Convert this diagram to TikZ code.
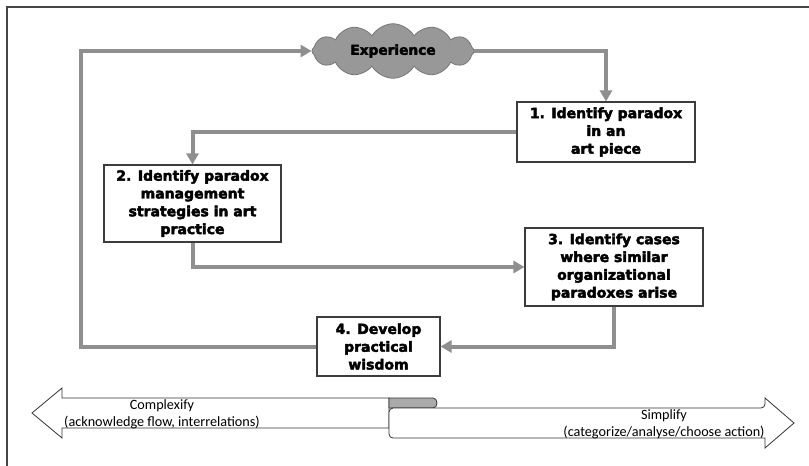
\documentclass[tikz,border=0pt]{standalone}
\usepackage{fontspec}
\setmainfont{DejaVu Sans}[BoldFeatures={FakeBold=3}]
\newfontfamily\calib{Carlito}
\usetikzlibrary{shapes.symbols,arrows.meta}
\definecolor{flowc}{RGB}{143,143,143}
\definecolor{cloudf}{RGB}{152,152,152}
\definecolor{cloudd}{RGB}{120,120,120}
\definecolor{boxd}{RGB}{60,60,60}
\definecolor{framec}{RGB}{70,70,70}
\definecolor{foldc}{RGB}{170,170,170}
\tikzset{
  stepbox/.style={draw=boxd, line width=1.1pt, fill=white, align=center, inner sep=0pt,
    font=\fontsize{14}{17.8}\selectfont\bfseries},
  flow/.style={draw=flowc, line width=4pt, -{Triangle[length=11pt,width=12pt]}},
  ribbon/.style={draw=black!80, line width=0.8pt, fill=white},
  ribtext/.style={align=center, inner sep=0pt, font=\calib\fontsize{14.2}{17}\selectfont}
}
\begin{document}
\begin{tikzpicture}[x=1pt,y=-1pt]
\useasboundingbox (0,0) rectangle (809,466);
\fill[white] (0,0) rectangle (809,466);
% frame
\draw[framec, line width=1.6pt] (7,466) -- (7,7) -- (809,7);
% cloud
\node[cloud, cloud puffs=12, cloud puff arc=120, aspect=3.3, draw=cloudd, line width=0.8pt, fill=cloudf,
  minimum width=162pt, minimum height=50pt, inner sep=1pt,
  font=\fontsize{13.7}{16}\selectfont\bfseries] (exp) at (393,51) {Experience};
% boxes
\node[stepbox, minimum width=178pt, minimum height=60pt] (b1) at (606,132)
  {1. Identify paradox\\in an\\art piece};
\node[stepbox, minimum width=177pt, minimum height=77pt] (b2) at (192.5,203.5)
  {2. Identify paradox\\management\\strategies in art\\practice};
\node[stepbox, minimum width=178pt, minimum height=78pt] (b3) at (614,267)
  {3. Identify cases\\where similar\\organizational\\paradoxes arise};
\node[stepbox, minimum width=123pt, minimum height=59pt] (b4) at (378.5,346.5)
  {4. Develop\\practical\\wisdom};
\coordinate (lc) at (81,51);
% connectors
\draw[flow] (exp.east) -| (b1.north);
\draw[flow] (b1.west) -| (b2.north);
\draw[flow] (b2.south) |- (b3.west);
\draw[flow] (b3.south) |- (b4.east);
\draw[flow] (b4.west) -| (lc) -- (exp.west);
% ribbon
\draw[ribbon] (32,413) -- (62,388) -- (62,398) -- (389,398) -- (389,428) -- (62,428) -- (62,438) -- cycle;
\draw[ribbon, fill=foldc] (389,398) -- (433,398) arc[start angle=-90, end angle=90, x radius=4, y radius=5] -- (389,408) -- cycle;
\draw[ribbon, rounded corners=4pt] (389,423) -- (389,408) -- (765,408) [sharp corners] -- (765,398) -- (794,423) -- (765,448) -- (765,438) [rounded corners=4pt] -- (389,438) -- cycle;
\node[ribtext] (cpx) at (162,414) {Complexify\\(acknowledge flow, interrelations)};
\node[ribtext] (smp) at (664,424) {Simplify\\(categorize/analyse/choose action)};
\end{tikzpicture}
\end{document}
